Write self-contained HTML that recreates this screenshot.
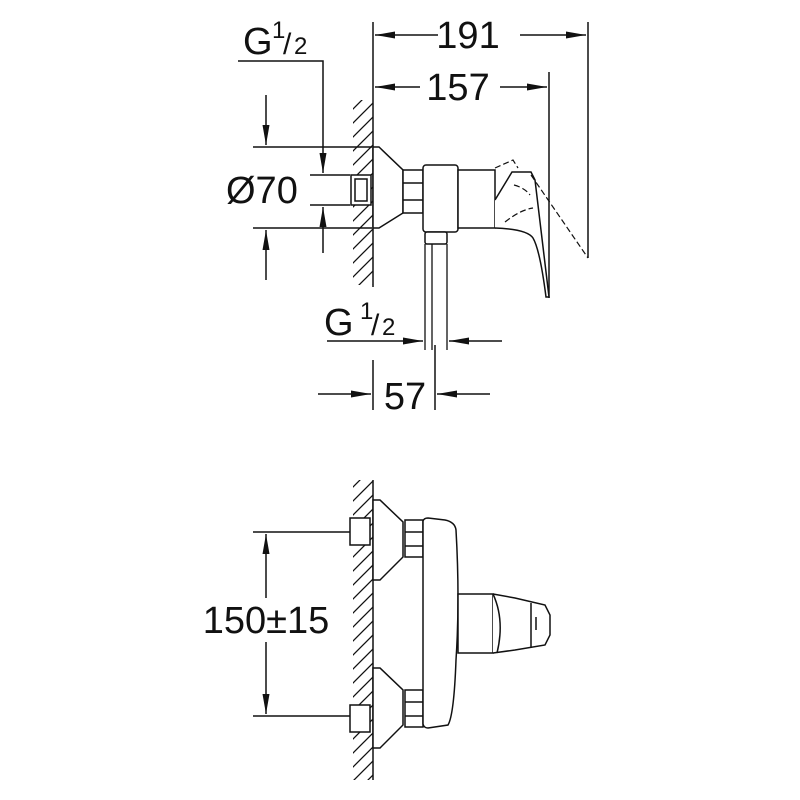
<!DOCTYPE html>
<html><head><style>html,body{margin:0;padding:0;background:#fff}svg{display:block}text{font-family:"Liberation Sans",sans-serif;fill:#111}</style></head>
<body>
<svg width="800" height="800" viewBox="0 0 800 800" xmlns="http://www.w3.org/2000/svg">
<defs>
<marker id="b" viewBox="0 0 20 10" refX="20" refY="5" markerWidth="20" markerHeight="10" markerUnits="userSpaceOnUse" orient="auto"><path d="M0,1.5L20,5L0,8.5z" fill="#111"/></marker>
<pattern id="h" width="14" height="14" patternUnits="userSpaceOnUse"><path d="M-3.5,17.5L17.5,-3.5M-3.5,3.5L3.5,-3.5M10.5,17.5L17.5,10.5" stroke="#111" stroke-width="1.3"/></pattern>
</defs>
<g stroke="#111" fill="none" stroke-width="1.5">
<!-- TOP VIEW -->
<rect x="353" y="100" width="20" height="185" fill="url(#h)" stroke="none"/>
<line x1="373" y1="22" x2="373" y2="287"/>
<line x1="588" y1="22" x2="588" y2="258"/>
<line x1="549" y1="72" x2="549" y2="298"/>
<path d="M438,35H375" marker-end="url(#b)"/>
<path d="M520,35H586" marker-end="url(#b)"/>
<path d="M420,87H375" marker-end="url(#b)"/>
<path d="M500,87H547" marker-end="url(#b)"/>
<path d="M373,147H379L403,170V213L379,228H373Z" fill="#fff"/>
<rect x="351" y="175" width="20" height="30" fill="#fff"/>
<rect x="355" y="179" width="12" height="22"/>
<rect x="403" y="170" width="20" height="43" fill="#fff"/>
<path d="M403,183H423M403,200H423"/>
<rect x="423" y="165" width="35" height="67" rx="3" fill="#fff"/>
<rect x="458" y="170" width="37" height="58" fill="#fff"/>
<path d="M495,200L512,172H531L535,180L549,297H546Q540,250 533,238Q527,229 495,228" fill="#fff"/>
<path d="M495,168L513,160L518,168M531,175L588,258M514,185Q525,188 530,195M505,222Q520,210 533,208" stroke-dasharray="6,3" stroke-width="1.2"/>
<rect x="425" y="232" width="22" height="12" rx="2" fill="#fff"/>
<path d="M425,244V350M447,244V350M432,244V350" stroke-width="1.3"/>
<path d="M253,147H372M253,228H372M310,175H350M310,205H350"/>
<path d="M266,95V145" marker-end="url(#b)"/>
<path d="M266,280V230" marker-end="url(#b)"/>
<path d="M238,61H323V173" marker-end="url(#b)"/>
<path d="M323,253V207" marker-end="url(#b)"/>
<path d="M327,341H423" marker-end="url(#b)"/>
<path d="M502,341H449" marker-end="url(#b)"/>
<path d="M373,360V410M435,345V410"/>
<path d="M318,394H371" marker-end="url(#b)"/>
<path d="M490,394H437" marker-end="url(#b)"/>
<!-- BOTTOM VIEW -->
<rect x="353" y="480" width="20" height="300" fill="url(#h)" stroke="none"/>
<line x1="373" y1="480" x2="373" y2="780"/>
<path d="M373,500H380L403,522V557L380,580H373Z" fill="#fff"/>
<path d="M373,668H380L403,690V725L380,748H373Z" fill="#fff"/>
<rect x="350" y="518" width="20" height="27" fill="#fff"/>
<rect x="350" y="705" width="20" height="27" fill="#fff"/>
<rect x="405" y="520" width="18" height="37" fill="#fff"/>
<rect x="405" y="690" width="18" height="37" fill="#fff"/>
<path d="M405,532H423M405,546H423M405,702H423M405,716H423"/>
<path d="M423,521Q424,518 428,518L445,520Q455,522 456,530Q460,600 456,660Q454,715 448,725L428,728Q424,728 423,724Z" fill="#fff"/>
<rect x="458" y="594" width="35" height="59" fill="#fff"/>
<path d="M493,594L515,598L545,605L550,615V635L545,645L515,650L493,653" fill="#fff"/>
<path d="M493,594Q505,620 497,653M531,603V648M536,617V630"/>
<path d="M253,532H350M253,716H350"/>
<path d="M266,598V534" marker-end="url(#b)"/>
<path d="M266,642V714" marker-end="url(#b)"/>
</g>
<text x="468" y="48" font-size="38" text-anchor="middle">191</text>
<text x="458" y="100" font-size="38" text-anchor="middle">157</text>
<text x="243" y="54" font-size="38">G</text><text x="272" y="38" font-size="24">1</text><text x="283" y="54" font-size="30">/</text><text x="294" y="54" font-size="24">2</text>
<text x="226" y="203" font-size="38">Ø70</text>
<text x="324" y="335" font-size="38">G</text><text x="360" y="319" font-size="24">1</text><text x="371" y="335" font-size="30">/</text><text x="382" y="335" font-size="24">2</text>
<text x="405" y="409" font-size="38" text-anchor="middle">57</text>
<text x="266" y="633" font-size="38" text-anchor="middle">150±15</text>
</svg>
</body></html>
